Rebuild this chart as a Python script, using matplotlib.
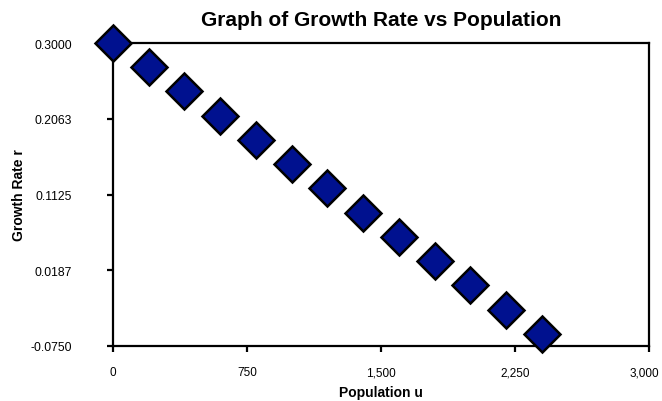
import matplotlib
matplotlib.use("Agg")
import matplotlib.pyplot as plt
import matplotlib.transforms as mtransforms

plt.rcParams["font.family"] = ["Liberation Sans", "DejaVu Sans"]

# Data
population = [0, 200, 400, 600, 800, 1000, 1200, 1400, 1600, 1800, 2000, 2200, 2400]
growth_rate = [0.30, 0.27, 0.24, 0.21, 0.18, 0.15, 0.12, 0.09, 0.06, 0.03, 0.00, -0.03, -0.06]

x_ticks = [0, 750, 1500, 2250, 3000]
x_labels = ["0", "750", "1,500", "2,250", "3,000"]
y_ticks = [-0.075, 0.01875, 0.1125, 0.20625, 0.3]
y_labels = ["-0.0750", "0.0187", "0.1125", "0.2063", "0.3000"]

fig = plt.figure(figsize=(6.62, 4.02), dpi=100)
ax = fig.add_axes([113 / 662, 1 - 347 / 402, 536 / 662, 303 / 402])

ax.plot(population, growth_rate, linestyle="none", marker="D", markersize=18,
        markerfacecolor="#00118f", markeredgecolor="black", markeredgewidth=1.8,
        clip_on=False, zorder=5)

ax.set_xlim(0, 3000)
ax.set_ylim(-0.075, 0.3)
ax.set_xticks(x_ticks)
ax.set_xticklabels(x_labels)
ax.set_yticks(y_ticks)
ax.set_yticklabels(y_labels)

for s in ax.spines.values():
    s.set_linewidth(1.6)
    s.set_color("black")

ax.tick_params(axis="x", direction="out", length=4.5, width=1.6, pad=10, labelsize=8.5)
ax.tick_params(axis="y", direction="out", length=4.5, width=1.6, pad=25, labelsize=8.7)

# nudge the last x label so it stays inside the figure
last = ax.get_xticklabels()[-1]
last.set_transform(last.get_transform() + mtransforms.ScaledTranslation(-3 / 72, 0, fig.dpi_scale_trans))

ax.set_title("Graph of Growth Rate vs Population", fontsize=15, fontweight="bold", pad=13)
ax.set_xlabel("Population u", fontsize=10, fontweight="bold", labelpad=5)
ax.set_ylabel("Growth Rate r", fontsize=10, fontweight="bold", labelpad=3)

fig.savefig("out.png", dpi=100)
